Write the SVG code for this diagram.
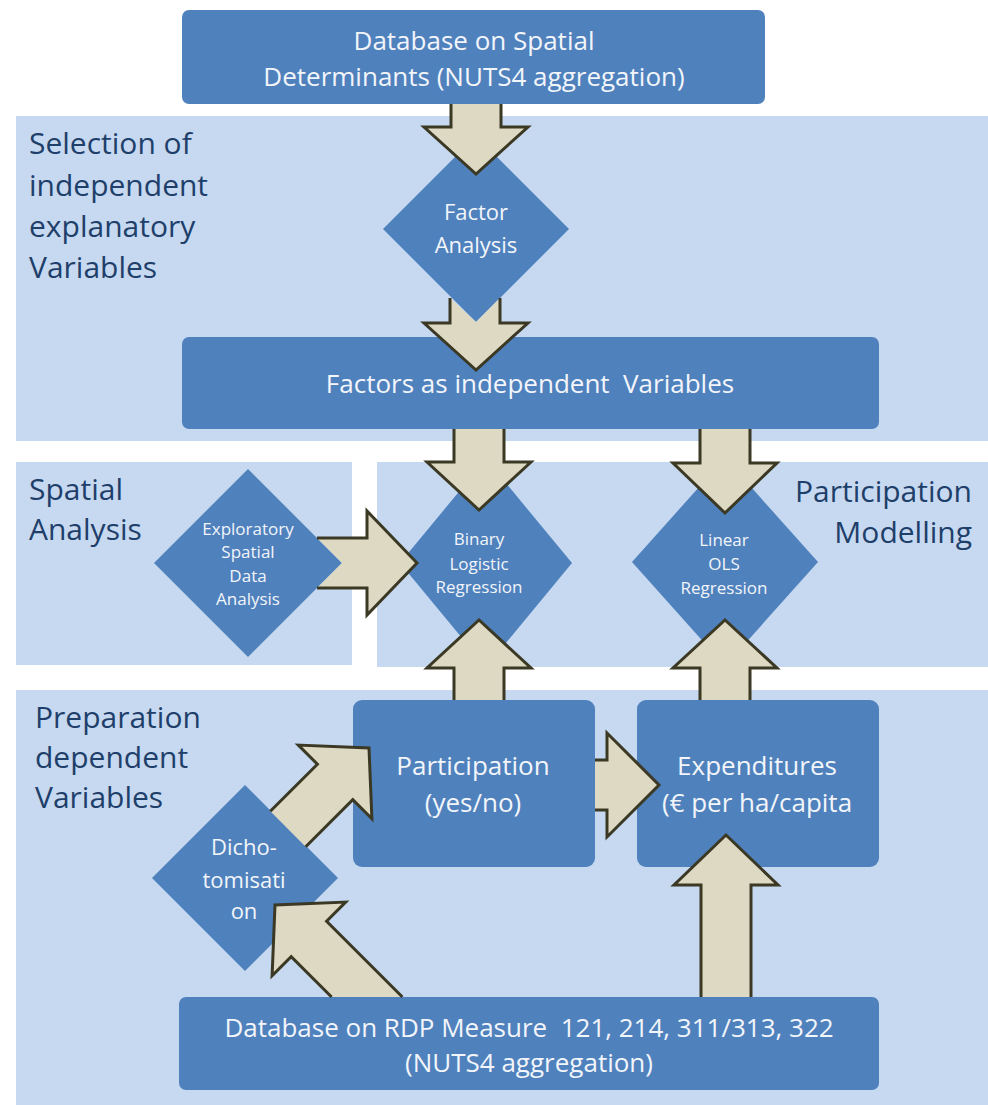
<svg xmlns="http://www.w3.org/2000/svg" width="988" height="1105" viewBox="0 0 988 1105">
  <style>
    .panel { fill: #c6d9f0; }
    .box { fill: #4f81bd; }
    .lbl { font-family: "Open Sans", "Liberation Sans", sans-serif; font-size: 30px; fill: #1f3f6b; }
    .nt { font-family: "Open Sans", "Liberation Sans", sans-serif; font-size: 26px; fill: #f2f5fa; text-anchor: middle; }
    .st { font-family: "Open Sans", "Liberation Sans", sans-serif; font-size: 17px; fill: #f2f5fa; text-anchor: middle; }
    .mt { font-family: "Open Sans", "Liberation Sans", sans-serif; font-size: 22px; fill: #f2f5fa; text-anchor: middle; }
    .arr { fill: #ddd9c3; stroke: #3b3824; stroke-width: 3; stroke-linejoin: miter; }
    .arrf { fill: #ddd9c3; stroke: none; }
    .arrs { fill: none; stroke: #3b3824; stroke-width: 3; stroke-linejoin: miter; }
  </style>
  <rect width="988" height="1105" fill="#ffffff"/>

  <g id="panel-selection">
    <rect class="panel" x="16" y="116" width="972" height="325"/>
    <text class="lbl" x="29" y="154">Selection of</text>
    <text class="lbl" x="29" y="196">independent</text>
    <text class="lbl" x="29" y="237">explanatory</text>
    <text class="lbl" x="29" y="278">Variables</text>
  </g>
  <g id="panel-spatial">
    <rect class="panel" x="16" y="462" width="336" height="203"/>
    <text class="lbl" x="29" y="500">Spatial</text>
    <text class="lbl" x="29" y="540">Analysis</text>
  </g>
  <g id="panel-modelling">
    <rect class="panel" x="377" y="462" width="611" height="205"/>
    <text class="lbl" x="972" y="502" text-anchor="end">Participation</text>
    <text class="lbl" x="972" y="543" text-anchor="end">Modelling</text>
  </g>
  <g id="panel-preparation">
    <rect class="panel" x="16" y="690" width="972" height="415"/>
    <text class="lbl" x="35" y="728">Preparation</text>
    <text class="lbl" x="35" y="768">dependent</text>
    <text class="lbl" x="35" y="808">Variables</text>
  </g>

  <g id="node-db-spatial">
    <rect class="box" x="182" y="10" width="583" height="94" rx="7"/>
    <text class="nt" x="474" y="50">Database on Spatial</text>
    <text class="nt" x="474" y="86">Determinants (NUTS4 aggregation)</text>
  </g>
  <g id="node-factor-analysis">
    <polygon class="box" points="476,136 569,229 476,322 383,229"/>
    <text class="mt" x="476" y="220">Factor</text>
    <text class="mt" x="476" y="253">Analysis</text>
  </g>
  <g id="node-factors">
    <rect class="box" x="182" y="337" width="697" height="92" rx="7"/>
    <text class="nt" x="530" y="393" xml:space="preserve">Factors as independent  Variables</text>
  </g>
  <g id="node-esda">
    <polygon class="box" points="248,469 342,563 248,657 154,563"/>
    <text class="st" x="248" y="535">Exploratory</text>
    <text class="st" x="248" y="558">Spatial</text>
    <text class="st" x="248" y="582">Data</text>
    <text class="st" x="248" y="605">Analysis</text>
  </g>
  <g id="node-binary">
    <polygon class="box" points="486,459 572,563 486,667 400,563"/>
    <text class="st" x="479" y="545">Binary</text>
    <text class="st" x="479" y="570">Logistic</text>
    <text class="st" x="479" y="593">Regression</text>
  </g>
  <g id="node-linear">
    <polygon class="box" points="725,458 818,562 725,666 632,562"/>
    <text class="st" x="724" y="546">Linear</text>
    <text class="st" x="724" y="570">OLS</text>
    <text class="st" x="724" y="594">Regression</text>
  </g>
  <g id="node-participation">
    <rect class="box" x="353" y="700" width="242" height="167" rx="9"/>
    <text class="nt" x="473" y="775">Participation</text>
    <text class="nt" x="473" y="812">(yes/no)</text>
  </g>
  <g id="node-expenditures">
    <rect class="box" x="637" y="700" width="242" height="167" rx="9"/>
    <text class="nt" x="757" y="775">Expenditures</text>
    <text class="nt" x="757" y="812">(€ per ha/capita</text>
  </g>
  <g id="node-dichotomisation">
    <polygon class="box" points="245,785 338,878 245,971 152,878"/>
    <text class="mt" x="244" y="855">Dicho-</text>
    <text class="mt" x="244" y="888">tomisati</text>
    <text class="mt" x="244" y="919">on</text>
  </g>
  <g id="node-db-rdp">
    <rect class="box" x="179" y="997" width="700" height="93" rx="7"/>
    <text class="nt" x="529" y="1037" xml:space="preserve">Database on RDP Measure  121, 214, 311/313, 322</text>
    <text class="nt" x="529" y="1072">(NUTS4 aggregation)</text>
  </g>

  <g id="connectors">
    <!-- DB spatial -> Factor Analysis -->
    <path class="arr" d="M501,104 L501,127 L528,127 L476,174 L424,127 L451,127 L451,104"/>
    <!-- Factor Analysis -> Factors -->
    <path class="arrf" d="M476,322 L500,298 L500,323 L528,323 L476,370 L424,323 L450,323 L450,298 Z"/>
    <path class="arrs" d="M500,298 L500,323 L528,323 L476,370 L424,323 L450,323 L450,298"/>
    <!-- Factors -> Binary -->
    <path class="arr" d="M504,429 L504,462 L531,462 L479,510 L427,462 L454,462 L454,429"/>
    <!-- Factors -> Linear -->
    <path class="arr" d="M750,429 L750,463 L777,463 L725,513 L673,463 L700,463 L700,429"/>
    <!-- ESDA -> Binary -->
    <path class="arrf" d="M342,563 L317,538 L367,538 L367,511 L417,563 L367,615 L367,588 L317,588 Z"/>
    <path class="arrs" d="M317,538 L367,538 L367,511 L417,563 L367,615 L367,588 L317,588"/>
    <!-- Participation -> Binary -->
    <path class="arr" d="M454,700 L454,668 L427,668 L479,620 L531,668 L504,668 L504,700"/>
    <!-- Expenditures -> Linear -->
    <path class="arr" d="M700,700 L700,668 L673,668 L725,620 L777,668 L750,668 L750,700"/>
    <!-- Participation -> Expenditures -->
    <path class="arr" d="M595,760 L607,760 L607,733 L659,785 L607,837 L607,810 L595,810"/>
    <!-- DB RDP -> Expenditures -->
    <path class="arr" d="M701,997 L701,885 L674,885 L726,835 L778,885 L751,885 L751,997"/>
    <!-- Dichotomisation -> Participation -->
    <path class="arr" d="M305.7,846.7 L352.8,799.6 L371.9,818.7 L369,748 L298.3,745.1 L317.4,764.2 L270.3,811.3"/>
    <!-- DB RDP -> Dichotomisation -->
    <path class="arr" d="M402.4,997 L326.6,921.2 L345.7,902.1 L275,905 L272.1,975.7 L291.2,956.6 L331.6,997"/>
  </g>
</svg>
